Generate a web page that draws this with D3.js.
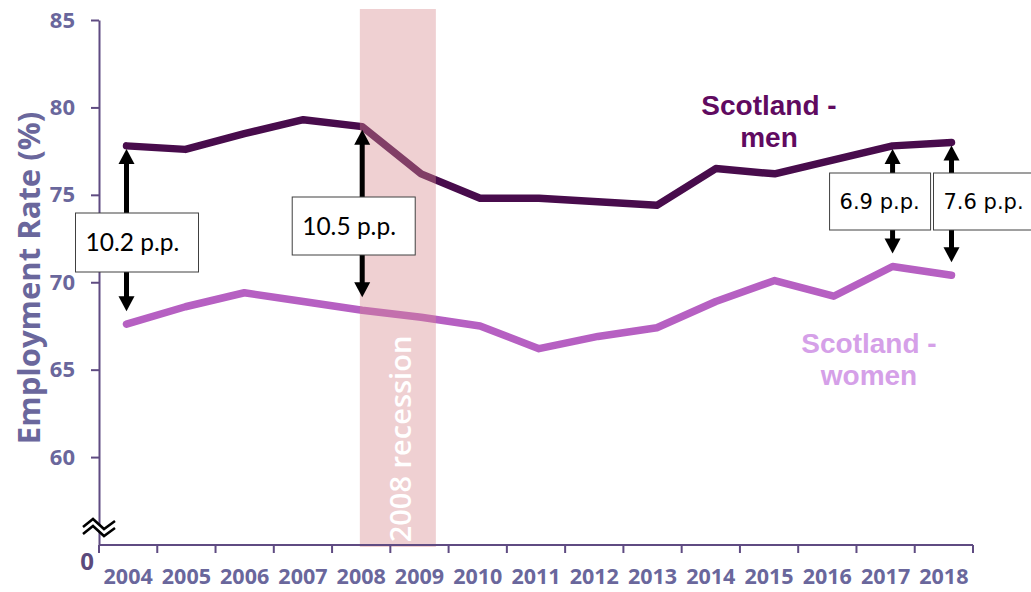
<!DOCTYPE html>
<html>
<head>
<meta charset="utf-8">
<script src="https://cdn.jsdelivr.net/npm/d3@7"></script>
<style>
  html, body { margin: 0; padding: 0; background: #ffffff; }
  svg { display: block; }
</style>
</head>
<body>
<svg id="chart" width="1031" height="592"></svg>
<script>
// ---- data ----
const years = ["2004","2005","2006","2007","2008","2009","2010","2011","2012","2013","2014","2015","2016","2017","2018"];
const men   = [77.8, 77.6, 78.5, 79.3, 78.9, 76.2, 74.8, 74.8, 74.6, 74.4, 76.5, 76.2, 77.0, 77.8, 78.0];
const women = [67.6, 68.6, 69.4, 68.9, 68.4, 68.0, 67.5, 66.2, 66.9, 67.4, 68.9, 70.1, 69.2, 70.9, 70.4];
const yTicks = [60, 65, 70, 75, 80, 85];
const yBreakLabel = "0";
const gapYears  = ["2004", "2008", "2017", "2018"];
const gapLabels = ["10.2 p.p.", "10.5 p.p.", "6.9 p.p.", "7.6 p.p."];
const recessionYears = ["2008", "2009"];
const recessionLabel = "2008 recession";
const seriesNames = [["Scotland -", "men"], ["Scotland -", "women"]];
const yTitle = "Employment Rate (%)";

// ---- layout ----
const svg = d3.select("#chart");
const axisColor = "#5f4b82";
const tickColor = "#6a679c";
const menColor = "#480c4c", womenColor = "#b660c2";
const menLabelColor = "#600a60", womenLabelColor = "#d5a0e8";
const boldFont = "'Open Sans', Lato, sans-serif";

const y = d3.scaleLinear().domain([55, 85]).range([544.5, 20]);
const xBand = d3.scaleBand().domain(years).range([99, 973]);
const xPt = d3.scalePoint().domain(years).range([126.5, 951.5]);
const step = xPt.step();

// lines
const line = d3.line().x((d, i) => xPt(years[i])).y(d => y(d));
svg.append("path").datum(women).attr("d", line)
  .attr("fill", "none").attr("stroke", womenColor).attr("stroke-width", 7.5)
  .attr("stroke-linecap", "round").attr("stroke-linejoin", "round");
svg.append("path").datum(men).attr("d", line)
  .attr("fill", "none").attr("stroke", menColor).attr("stroke-width", 7.5)
  .attr("stroke-linecap", "round").attr("stroke-linejoin", "round");

// recession band (translucent, above lines)
const bx0 = xPt(recessionYears[0]) - 0.04 * step;
const bx1 = xPt(recessionYears[1]) + 0.25 * step;
svg.append("rect")
  .attr("x", bx0).attr("y", 9).attr("width", bx1 - bx0).attr("height", 538)
  .attr("fill", "rgb(215,137,142)").attr("fill-opacity", 0.4);
svg.append("text")
  .attr("transform", `translate(${(bx0 + bx1) / 2 + 2},${439}) rotate(-90)`)
  .attr("text-anchor", "middle").attr("dominant-baseline", "central")
  .attr("fill", "#ffffff").attr("font-family", "'Open Sans', sans-serif")
  .attr("font-weight", 600).attr("font-size", 29).text(recessionLabel);

// y axis
const yAxis = d3.axisLeft(y).tickValues(yTicks).tickSize(8).tickSizeOuter(0).tickPadding(16);
const gy = svg.append("g").attr("transform", "translate(99,0)").call(yAxis);
gy.select(".domain").attr("stroke", axisColor).attr("stroke-width", 2);
gy.selectAll(".tick line").attr("stroke", axisColor).attr("stroke-width", 2);
gy.selectAll(".tick text").attr("fill", tickColor)
  .attr("font-family", boldFont).attr("font-weight", "bold").attr("font-size", 22);

// x axis
const gx = svg.append("g");
gx.append("line").attr("x1", xBand.range()[0]).attr("x2", xBand.range()[1])
  .attr("y1", 545).attr("y2", 545).attr("stroke", axisColor).attr("stroke-width", 2);
const bounds = [xBand(years[0])].concat(years.map(d => xBand(d) + xBand.bandwidth()));
gx.selectAll("line.tk").data(bounds).join("line").attr("class", "tk")
  .attr("x1", d => d).attr("x2", d => d).attr("y1", 545).attr("y2", 553)
  .attr("stroke", axisColor).attr("stroke-width", 2);
const xAxis = d3.axisBottom(xBand).tickSize(0).tickPadding(24);
const gxl = svg.append("g").attr("transform", "translate(0,545)").call(xAxis);
gxl.select(".domain").remove();
gxl.selectAll(".tick text").attr("fill", tickColor)
  .attr("font-family", boldFont).attr("font-weight", "bold").attr("font-size", 21.5);

// "0" label at break
svg.append("text").attr("x", 87).attr("y", y(55) + 16).attr("text-anchor", "middle")
  .attr("dominant-baseline", "central")
  .attr("fill", "#5b4a7c").attr("font-family", boldFont).attr("font-weight", "bold")
  .attr("font-size", 24).text(yBreakLabel);

// break symbol
const by = y(56);
const zz = (o) => `M83,${by + o} L93,${by + o - 8} L104,${by + o + 2} L115,${by + o - 6}`;
svg.append("path")
  .attr("d", `M83,${by} L93,${by - 8} L104,${by + 2} L115,${by - 6} L115,${by + 1} L104,${by + 9} L93,${by - 1} L83,${by + 7} Z`)
  .attr("fill", "#ffffff");
svg.append("path").attr("d", zz(0)).attr("fill", "none").attr("stroke", "#000").attr("stroke-width", 2.5);
svg.append("path").attr("d", zz(7)).attr("fill", "none").attr("stroke", "#000").attr("stroke-width", 2.5);

// y title
svg.append("text")
  .attr("transform", `translate(28,${278}) rotate(-90)`)
  .attr("text-anchor", "middle").attr("dominant-baseline", "central")
  .attr("fill", tickColor).attr("font-family", boldFont).attr("font-weight", "bold")
  .attr("font-size", 31).text(yTitle);

// gap arrows + boxes
const boxLayout = [
  { dx: -51, y: 213, w: 123, h: 59, font: "Lato, sans-serif", size: 24.5 },
  { dx: -70, y: 197, w: 123, h: 58, font: "Lato, sans-serif", size: 24.5 },
  { dx: -63, y: 173, w: 101, h: 57, font: "'DejaVu Sans', sans-serif", size: 21 },
  { dx: -18, y: 173, w: 101, h: 57, font: "'DejaVu Sans', sans-serif", size: 21 }
];
gapYears.forEach((yr, k) => {
  const i = years.indexOf(yr);
  const cx = xPt(yr);
  const top = y(men[i]) + 3;
  const bot = y(women[i]) - 13;
  const hw = 8, hh = 15;
  const g = svg.append("g");
  g.append("line").attr("x1", cx).attr("x2", cx).attr("y1", top + hh - 1).attr("y2", bot - hh + 1)
    .attr("stroke", "#000").attr("stroke-width", 5);
  g.append("path").attr("d", `M${cx},${top} L${cx + hw},${top + hh} L${cx - hw},${top + hh} Z`).attr("fill", "#000");
  g.append("path").attr("d", `M${cx},${bot} L${cx + hw},${bot - hh} L${cx - hw},${bot - hh} Z`).attr("fill", "#000");
  const L = boxLayout[k];
  g.append("rect").attr("x", cx + L.dx).attr("y", L.y).attr("width", L.w).attr("height", L.h)
    .attr("fill", "#fff").attr("stroke", "#404040").attr("stroke-width", 1);
  g.append("text").attr("x", cx + L.dx + 10).attr("y", L.y + L.h / 2 + L.size * 0.36)
    .attr("fill", "#000").attr("font-family", L.font).attr("font-size", L.size).text(gapLabels[k]);
});

// series labels
const labelPos = [{ x: 769, y: 115, c: menLabelColor }, { x: 869, y: 353, c: womenLabelColor }];
seriesNames.forEach((lines, k) => {
  const t = svg.append("text").attr("text-anchor", "middle").attr("fill", labelPos[k].c)
    .attr("font-family", "'Liberation Sans', Arial, sans-serif").attr("font-weight", "bold").attr("font-size", 28);
  lines.forEach((s, j) => t.append("tspan").attr("x", labelPos[k].x).attr("y", labelPos[k].y + j * 32).text(s));
});
</script>
</body>
</html>
